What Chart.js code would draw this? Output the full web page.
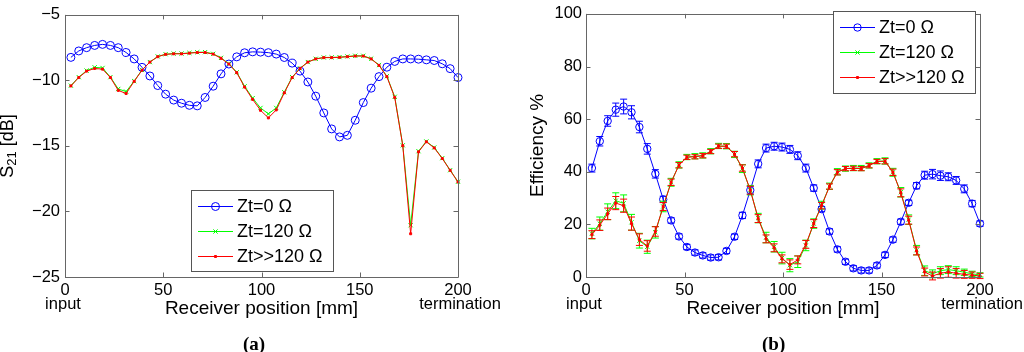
<!DOCTYPE html>
<html>
<head>
<meta charset="utf-8">
<script src="https://cdn.jsdelivr.net/npm/chart.js@4.4.0/dist/chart.umd.min.js"></script>
<style>
  body { margin:0; background:#fff; width:1024px; height:352px; overflow:hidden; position:relative; }
  canvas { position:absolute; top:0; }
  #c1 { left:0; }
  #c2 { left:512px; }
  .cap { position:absolute; top:333px; line-height:19px; font: bold 19px 'Liberation Serif', 'DejaVu Serif', serif; }
</style>
</head>
<body>
<canvas id="c1" width="512" height="352"></canvas>
<canvas id="c2" width="512" height="352"></canvas>
<div class="cap" style="left:243px">(a)</div>
<div class="cap" style="left:762px">(b)</div>
<script>
// receiver positions [mm]
const position = [3.0, 7.0, 11.0, 15.1, 19.1, 23.1, 27.1, 31.1, 35.2, 39.2,
  43.2, 47.2, 51.2, 55.3, 59.3, 63.3, 67.3, 71.3, 75.4, 79.4,
  83.4, 87.4, 91.4, 95.5, 99.5, 103.5, 107.5, 111.6, 115.6, 119.6,
  123.6, 127.6, 131.7, 135.7, 139.7, 143.7, 147.7, 151.8, 155.8, 159.8,
  163.8, 167.8, 171.9, 175.9, 179.9, 183.9, 187.9, 192.0, 196.0, 200.0];
const seriesNames = ['Zt=0 Ω', 'Zt=120 Ω', 'Zt>>120 Ω'];
const xTicks = [0, 50, 100, 150, 200];
const s21Ticks = [-25, -20, -15, -10, -5];
const effTicks = [0, 20, 40, 60, 80, 100];

// (a) S21 [dB]
const s21Zt0 = [-8.24, -7.75, -7.5, -7.33, -7.25, -7.33, -7.5, -7.87, -8.36, -9.0,
  -9.66, -10.39, -11.05, -11.5, -11.74, -11.9, -11.94, -11.3, -10.44, -9.5,
  -8.75, -8.2, -7.89, -7.82, -7.84, -7.88, -7.99, -8.25, -8.68, -9.29,
  -10.12, -11.2, -12.48, -13.7, -14.31, -14.19, -13.04, -11.69, -10.59, -9.71,
  -8.99, -8.55, -8.36, -8.36, -8.38, -8.43, -8.48, -8.73, -9.1, -9.78];
const s21Zt120 = [-10.4, -9.75, -9.25, -9.0, -9.05, -9.75, -10.65, -10.85, -10.05, -9.2,
  -8.6, -8.17, -8.0, -7.95, -7.95, -7.9, -7.85, -7.84, -7.97, -8.28,
  -8.72, -9.38, -10.45, -11.35, -12.1, -12.55, -12.1, -10.9, -9.75, -9.08,
  -8.6, -8.35, -8.25, -8.24, -8.22, -8.17, -8.12, -8.12, -8.34, -8.83,
  -9.68, -11.25, -14.95, -21.05, -15.4, -14.66, -15.12, -15.93, -16.85, -17.73];
const s21ZtHigh = [-10.42, -9.78, -9.29, -9.09, -9.14, -9.78, -10.76, -11.0, -10.07, -9.22,
  -8.6, -8.19, -8.01, -7.97, -7.97, -7.92, -7.87, -7.87, -7.99, -8.31,
  -8.75, -9.41, -10.51, -11.45, -12.28, -12.86, -12.25, -10.95, -9.78, -9.09,
  -8.6, -8.36, -8.26, -8.26, -8.24, -8.19, -8.14, -8.14, -8.36, -8.85,
  -9.71, -11.3, -14.98, -21.7, -15.45, -14.68, -15.15, -15.96, -16.86, -17.75];

// (b) efficiency %
const effZt0 = [41.4, 51.6, 59.3, 63.6, 64.8, 62.6, 57.0, 48.7, 39.2, 29.5,
  21.5, 15.4, 11.4, 9.3, 8.2, 7.4, 7.5, 9.9, 15.3, 23.4,
  33.0, 43.0, 49.0, 49.7, 49.4, 48.5, 46.1, 41.4, 33.8, 25.8,
  17.3, 10.5, 5.8, 3.3, 2.5, 2.5, 4.4, 8.4, 14.2, 21.0,
  28.2, 34.7, 38.7, 39.1, 38.5, 38.1, 36.7, 33.5, 27.9, 20.3];
const effZt120 = [16.5, 20.3, 24.8, 29.0, 28.0, 20.8, 13.8, 11.5, 17.0, 26.8,
  36.0, 42.6, 45.6, 45.9, 46.2, 47.8, 49.8, 49.7, 46.6, 41.2,
  33.0, 22.4, 15.0, 11.5, 7.2, 4.5, 5.8, 12.0, 20.3, 27.3,
  34.5, 40.0, 41.2, 41.4, 41.4, 42.4, 44.0, 44.1, 39.8, 32.2,
  21.8, 10.2, 2.4, 1.2, 2.4, 2.8, 2.4, 1.8, 1.2, 0.8];
const effZtHigh = [16.1, 19.7, 24.0, 28.1, 27.1, 20.3, 14.2, 11.8, 17.3, 26.8,
  36.0, 42.5, 45.5, 45.7, 46.1, 47.7, 49.7, 49.7, 46.7, 41.4,
  33.0, 22.2, 14.5, 11.1, 6.9, 4.7, 6.5, 12.4, 20.3, 27.1,
  34.4, 39.8, 41.2, 41.3, 41.2, 42.3, 43.9, 44.0, 39.8, 32.0,
  21.6, 9.9, 1.9, 0.4, 1.4, 1.9, 1.4, 1.0, 0.7, 0.4];
// error bar half heights
const errZt0 = [1.5, 1.8, 2.0, 2.5, 2.8, 2.5, 2.2, 2.0, 1.6, 1.2,
  1, 1, 1, 1, 1, 1, 1, 1, 1, 1.2,
  1.5, 1.5, 1.5, 1.5, 1.5, 1.5, 1.5, 1.5, 1.2, 1,
  1, 1, 1, 1, 1, 1, 1, 1, 1, 1,
  1, 1.2, 1.5, 1.8, 1.8, 1.5, 1.5, 1.5, 1.2, 1];
const errZt120 = [2, 2.5, 3, 3, 3.2, 3, 2.8, 2.5, 2.2, 2,
  1.5, 1.2, 1, 1, 1, 1, 1, 1, 1.2, 1.5,
  1.8, 1.8, 2, 2, 2.2, 2.5, 2.2, 2, 1.8, 1.5,
  1.2, 1.2, 1, 1, 1, 1, 1, 1.2, 1.5, 1.8,
  1.8, 1.8, 1.8, 1.5, 1.5, 1.5, 1.5, 1.2, 1, 0.8];
const errZtHigh = [1.5, 2.0, 2.2, 2.5, 2.5, 2.5, 2.2, 2.0, 1.8, 1.5,
  1.2, 1, 0.8, 0.8, 0.8, 0.8, 0.8, 0.8, 1, 1.2,
  1.5, 1.5, 1.5, 1.5, 1.5, 1.8, 1.5, 1.5, 1.5, 1.2,
  1, 1, 0.8, 0.8, 0.8, 0.8, 0.8, 1, 1.2, 1.5,
  1.5, 1.5, 1.5, 1.5, 1.8, 2, 1.8, 1.5, 1.2, 1];

Chart.defaults.font.family = "'Liberation Sans', Arial, sans-serif";
Chart.defaults.color = '#000';

const pts = arr => arr.map((v, i) => ({ x: position[i], y: v }));
const minus = v => String(v).replace('-', '\u2212');

// matlab style box with inward ticks
const boxPlugin = {
  id: 'box',
  afterDatasetsDraw(chart) {
    const { ctx, chartArea: a, scales } = chart;
    const t = 4.5;
    ctx.save();
    ctx.strokeStyle = '#666';
    ctx.lineWidth = 1;
    ctx.beginPath();
    ctx.rect(Math.round(a.left) + 0.5, Math.round(a.top) + 0.5, Math.round(a.right - a.left), Math.round(a.bottom - a.top));
    scales.x.ticks.forEach(tk => {
      const px = Math.round(scales.x.getPixelForValue(tk.value)) + 0.5;
      ctx.moveTo(px, a.bottom); ctx.lineTo(px, a.bottom - t);
      ctx.moveTo(px, a.top); ctx.lineTo(px, a.top + t);
    });
    scales.y.ticks.forEach(tk => {
      const py = Math.round(scales.y.getPixelForValue(tk.value)) + 0.5;
      ctx.moveTo(a.left, py); ctx.lineTo(a.left + t, py);
      ctx.moveTo(a.right, py); ctx.lineTo(a.right - t, py);
    });
    ctx.stroke();
    // second line under the end ticks
    ctx.font = "16.5px 'Liberation Sans', Arial, sans-serif";
    ctx.fillStyle = '#000';
    ctx.textAlign = 'center';
    ctx.textBaseline = 'alphabetic';
    ctx.fillText('input', scales.x.getPixelForValue(0) - 2, 308.5);
    ctx.fillText('termination', scales.x.getPixelForValue(200) + 2, 308.5);
    ctx.restore();
  }
};

const errorBars = {
  id: 'errorBars',
  afterDatasetDraw(chart, args) {
    const ds = chart.data.datasets[args.index];
    if (!ds.errors) return;
    const ctx = chart.ctx, y = chart.scales.y;
    ctx.save();
    ctx.strokeStyle = ds.borderColor;
    ctx.lineWidth = 1;
    ctx.beginPath();
    args.meta.data.forEach((p, i) => {
      const v = ds.data[i].y, e = ds.errors[i];
      const y1 = y.getPixelForValue(v - e), y2 = y.getPixelForValue(v + e);
      ctx.moveTo(p.x, y1); ctx.lineTo(p.x, y2);
      ctx.moveTo(p.x - 3.5, y1); ctx.lineTo(p.x + 3.5, y1);
      ctx.moveTo(p.x - 3.5, y2); ctx.lineTo(p.x + 3.5, y2);
    });
    ctx.stroke();
    ctx.restore();
  }
};

const boxLegend = {
  id: 'boxLegend',
  afterDraw(chart, args, o) {
    const ctx = chart.ctx;
    ctx.save();
    ctx.fillStyle = '#fff';
    ctx.fillRect(o.x, o.y, o.w, o.h);
    ctx.strokeStyle = '#555';
    ctx.lineWidth = 1;
    ctx.strokeRect(o.x + 0.5, o.y + 0.5, o.w, o.h);
    ctx.font = "18px 'Liberation Sans', Arial, sans-serif";
    ctx.textBaseline = 'middle';
    chart.data.datasets.forEach((ds, i) => {
      const ry = Math.round(o.y + 15.7 + i * 25.3) + 0.5;
      ctx.strokeStyle = ds.borderColor;
      ctx.fillStyle = ds.pointBackgroundColor;
      ctx.beginPath();
      ctx.moveTo(o.x + 7, ry); ctx.lineTo(o.x + 42, ry);
      ctx.stroke();
      Chart.helpers.drawPoint(ctx, { pointStyle: ds.pointStyle, radius: ds.pointRadius, borderWidth: 1, rotation: 0 }, o.x + 24.5, ry);
      ctx.fillStyle = '#000';
      ctx.fillText(ds.label, o.x + 46, ry + 1);
    });
    ctx.restore();
  }
};

// y title with subscript for (a)
const s21Title = {
  id: 's21Title',
  afterDraw(chart) {
    const ctx = chart.ctx;
    const a = chart.chartArea;
    ctx.save();
    ctx.translate(13, (a.top + a.bottom) / 2);
    ctx.rotate(-Math.PI / 2);
    ctx.fillStyle = '#000';
    ctx.textBaseline = 'alphabetic';
    const big = "18px 'Liberation Sans', Arial, sans-serif";
    const small = "13px 'Liberation Sans', Arial, sans-serif";
    ctx.font = big; const w1 = ctx.measureText('S').width, w3 = ctx.measureText(' [dB]').width;
    ctx.font = small; const w2 = ctx.measureText('21').width;
    let x = -(w1 + w2 + w3) / 2;
    ctx.font = big; ctx.fillText('S', x, 0); x += w1;
    ctx.font = small; ctx.fillText('21', x, 3); x += w2;
    ctx.font = big; ctx.fillText(' [dB]', x, 0);
    ctx.restore();
  }
};

function makeDatasets(a, b, c, errs, circleR) {
  const sets = [
    { label: seriesNames[0], data: pts(a), borderColor: '#0000ff', pointBackgroundColor: 'rgba(0,0,0,0)',
      pointBorderColor: '#0000ff', pointStyle: 'circle', pointRadius: circleR, order: 3 },
    { label: seriesNames[1], data: pts(b), borderColor: '#00ff00', pointBackgroundColor: '#00ff00',
      pointBorderColor: '#00ff00', pointStyle: 'crossRot', pointRadius: 3, order: 2 },
    { label: seriesNames[2], data: pts(c), borderColor: '#ff0000', pointBackgroundColor: '#ff0000',
      pointBorderColor: '#ff0000', pointStyle: 'rect', pointRadius: 1.4, order: 1 }
  ];
  sets.forEach((s, i) => {
    s.borderWidth = 1; s.pointBorderWidth = 1; s.tension = 0; s.clip = false;
    if (errs) s.errors = errs[i];
  });
  return sets;
}

function xScale() {
  return {
    type: 'linear', min: 0, max: 200,
    afterBuildTicks: s => { s.ticks = xTicks.map(v => ({ value: v })); },
    ticks: { padding: 4, font: { size: 16.5 }, maxRotation: 0, autoSkip: false },
    grid: { display: false, drawTicks: false },
    border: { display: false },
    title: { display: true, text: 'Receiver position [mm]', font: { size: 19 }, padding: { top: 0, bottom: 32 } },
    afterFit: s => { s.height = 75; }
  };
}

new Chart(document.getElementById('c1'), {
  type: 'line',
  data: { datasets: makeDatasets(s21Zt0, s21Zt120, s21ZtHigh, null, 4) },
  options: {
    responsive: false, animation: false, devicePixelRatio: 1, events: [],
    layout: { padding: { left: 0, top: 5, right: 54, bottom: 0 } },
    scales: {
      x: xScale(),
      y: {
        type: 'linear', min: -25, max: -5,
        afterBuildTicks: s => { s.ticks = s21Ticks.map(v => ({ value: v })); },
        ticks: { padding: 5, font: { size: 16.5 }, callback: v => minus(v) },
        grid: { display: false, drawTicks: false },
        border: { display: false },
        afterFit: s => { s.width = 65; }
      }
    },
    plugins: {
      legend: { display: false }, tooltip: { enabled: false },
      boxLegend: { x: 191, y: 190, w: 142, h: 81 }
    }
  },
  plugins: [boxPlugin, boxLegend, s21Title]
});

new Chart(document.getElementById('c2'), {
  type: 'line',
  data: { datasets: makeDatasets(effZt0, effZt120, effZtHigh, [errZt0, errZt120, errZtHigh], 3.7) },
  options: {
    responsive: false, animation: false, devicePixelRatio: 1, events: [],
    layout: { padding: { left: 0, top: 5, right: 44, bottom: 0 } },
    scales: {
      x: xScale(),
      y: {
        type: 'linear', min: 0, max: 100,
        afterBuildTicks: s => { s.ticks = effTicks.map(v => ({ value: v })); },
        ticks: { padding: 4, font: { size: 16.5 } },
        grid: { display: false, drawTicks: false },
        border: { display: false },
        title: { display: true, text: 'Efficiency %', font: { size: 19 }, padding: { top: 14, bottom: 0 } },
        afterFit: s => { s.width = 74; }
      }
    },
    plugins: {
      legend: { display: false }, tooltip: { enabled: false },
      boxLegend: { x: 321, y: 11, w: 142, h: 82 }
    }
  },
  plugins: [errorBars, boxPlugin, boxLegend]
});
</script>
</body>
</html>
